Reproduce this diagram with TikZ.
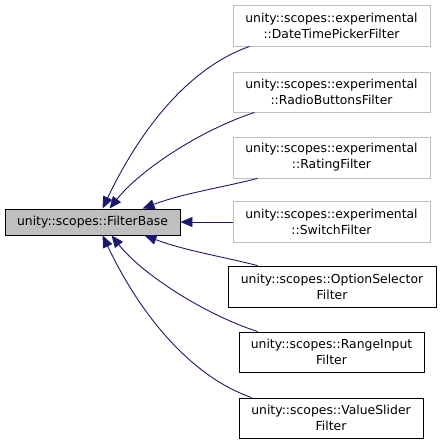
\documentclass[tikz,border=0pt]{standalone}
\usepackage{fontspec}
\setmainfont{DejaVu Sans}
\usetikzlibrary{arrows.meta}
\definecolor{edgeblue}{HTML}{191970}
\definecolor{boxgray}{HTML}{BFBFBF}
\definecolor{lightframe}{HTML}{BFBFBF}
\tikzset{
  cls/.style={draw, line width=0.9pt, fill=white, inner sep=0pt, align=center,
    font=\fontsize{12.4}{16}\selectfont},
  extbox/.style={cls, draw=lightframe},
  derbox/.style={cls, draw=black},
  basebox/.style={cls, draw=black, fill=boxgray},
  inh/.style={draw=edgeblue, line width=0.9pt, -{Triangle[length=12pt,width=10pt]}, edgeblue}
}
\begin{document}
\begin{tikzpicture}[x=1pt,y=-1pt]
\useasboundingbox (0,0) rectangle (441,444);
\node[basebox, minimum width=175pt, minimum height=26pt] (base) at (92.5,222) {unity::scopes::FilterBase};
\node[extbox, minimum width=197pt, minimum height=41pt] (b1) at (331.5,25.5) {unity::scopes::experimental\\::DateTimePickerFilter};
\node[extbox, minimum width=197pt, minimum height=40pt] (b2) at (331.5,92) {unity::scopes::experimental\\::RadioButtonsFilter};
\node[extbox, minimum width=197pt, minimum height=41pt] (b3) at (331.5,157.5) {unity::scopes::experimental\\::RatingFilter};
\node[extbox, minimum width=197pt, minimum height=41pt] (b4) at (331.5,222) {unity::scopes::experimental\\::SwitchFilter};
\node[derbox, minimum width=208pt, minimum height=41pt] (b5) at (332,286.5) {unity::scopes::OptionSelector\\Filter};
\node[derbox, minimum width=185pt, minimum height=40pt] (b6) at (331.5,352) {unity::scopes::RangeInput\\Filter};
\node[derbox, minimum width=184pt, minimum height=40pt] (b7) at (331,418) {unity::scopes::ValueSlider\\Filter};

\draw[inh] ([xshift=17pt]b1.south west) .. controls +(-55,19) and +(42,-88) .. ([xshift=98pt]base.north west);
\draw[inh] ([xshift=22pt]b2.south west) .. controls +(-55,18) and +(30,-38) .. ([xshift=105pt]base.north west);
\draw[inh] ([xshift=25pt]b3.south west) .. controls +(-40,10) and +(40,-15) .. ([xshift=138pt]base.north west);
\draw[inh] (b4.west) -- (base.east);
\draw[inh] ([xshift=30pt]b5.north west) .. controls +(-40,-10) and +(40,15) .. ([xshift=140pt]base.south west);
\draw[inh] ([xshift=19pt]b6.north west) .. controls +(-55,-18) and +(30,38) .. ([xshift=107pt]base.south west);
\draw[inh] ([xshift=13pt]b7.north west) .. controls +(-55,-19) and +(42,88) .. ([xshift=98pt]base.south west);
\end{tikzpicture}
\end{document}
